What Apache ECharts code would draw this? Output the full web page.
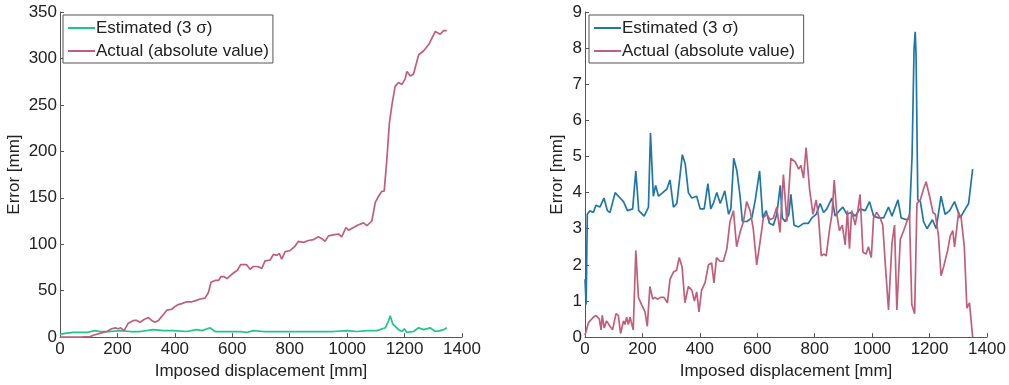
<!DOCTYPE html>
<html>
<head>
<meta charset="utf-8">
<script src="https://cdn.jsdelivr.net/npm/echarts@6/dist/echarts.min.js"></script>
<style>
  html, body { margin: 0; padding: 0; background: #fff; }
  #chart { width: 1009px; height: 385px; }
</style>
</head>
<body>
<div id="chart"></div>
<script>
// left panel
const leftEstX = [0, 17, 46, 93, 122, 139, 174, 209, 244, 279, 325, 360, 395, 441, 476, 494, 523, 540, 569, 604, 610, 627, 650, 673, 708, 743, 778, 813, 860, 906, 952, 999, 1034, 1069, 1104, 1133, 1145, 1150, 1159, 1179, 1191, 1199, 1208, 1231, 1249, 1266, 1289, 1307, 1324, 1336, 1347];
const leftEstY = [3, 4, 5, 5, 7, 6, 6, 7, 6, 6, 8, 7, 7, 6, 8, 7, 10, 6, 6, 6, 8, 6, 5, 7, 6, 6, 6, 6, 6, 6, 6, 7, 6, 7, 7, 10, 18, 23, 14, 8, 6, 9, 5, 6, 10, 8, 10, 6, 7, 8, 10];
const leftActX = [0, 23, 70, 105, 116, 139, 163, 180, 192, 203, 211, 223, 238, 256, 267, 279, 293, 308, 319, 331, 343, 354, 372, 389, 401, 412, 424, 441, 459, 470, 488, 505, 517, 526, 540, 552, 560, 571, 581, 592, 604, 618, 629, 650, 662, 673, 688, 703, 714, 732, 743, 755, 764, 772, 784, 801, 819, 830, 848, 865, 883, 900, 912, 923, 935, 952, 970, 981, 987, 996, 1005, 1022, 1040, 1057, 1069, 1086, 1098, 1110, 1121, 1129, 1138, 1147, 1156, 1167, 1179, 1191, 1202, 1208, 1220, 1231, 1249, 1266, 1284, 1307, 1324, 1336, 1347];
const leftActY = [0, 0, 0, 0.5, 2, 4, 6, 9, 10, 9, 10, 7, 15, 18, 18, 16, 19, 21, 18, 16, 18, 22, 29, 30, 33, 35, 36, 38, 38, 39, 41, 42, 48, 59, 61, 61, 65, 65, 63, 66, 69, 72, 78, 78, 73, 76, 76, 74, 82, 83, 89, 88, 90, 84, 92, 93, 98, 103, 102, 104, 105, 108, 106, 103, 109, 110, 111, 108, 108, 118, 115, 118, 121, 123, 120, 125, 145, 152, 157, 157, 190, 230, 250, 270, 274, 272, 278, 286, 281, 283, 304, 308, 315, 329, 326, 330, 330];

// right panel
const rightEstX = [0, 4, 8, 17, 29, 38, 52, 66, 78, 87, 105, 122, 134, 148, 166, 177, 187, 206, 221, 228, 238, 246, 256, 271, 285, 296, 308, 320, 339, 349, 360, 372, 389, 401, 415, 428, 438, 447, 459, 471, 487, 500, 508, 518, 529, 540, 548, 564, 581, 593, 608, 619, 631, 642, 656, 668, 680, 687, 697, 710, 717, 728, 744, 761, 778, 790, 805, 819, 831, 842, 860, 871, 886, 898, 912, 927, 941, 958, 976, 991, 1005, 1022, 1040, 1057, 1069, 1090, 1101, 1119, 1130, 1139, 1146, 1150, 1153, 1159, 1168, 1179, 1191, 1210, 1223, 1240, 1254, 1270, 1287, 1307, 1321, 1336, 1350];
const rightEstY = [1.6, 0.9, 3.4, 3.5, 3.45, 3.65, 3.6, 3.85, 3.5, 3.45, 4.0, 3.85, 3.75, 3.5, 3.55, 4.6, 3.5, 3.35, 3.6, 5.65, 3.9, 4.2, 3.9, 4.0, 4.1, 4.35, 3.6, 3.7, 5.05, 4.8, 4.0, 3.85, 3.9, 3.55, 3.55, 4.25, 3.55, 3.7, 4.0, 3.7, 4.05, 3.4, 3.55, 4.95, 4.6, 3.9, 3.2, 3.2, 3.3, 3.8, 4.6, 3.3, 3.5, 3.15, 3.1, 3.4, 4.2, 3.3, 3.2, 3.4, 3.95, 3.1, 3.05, 3.15, 3.15, 3.3, 3.4, 3.7, 3.45, 3.55, 3.85, 3.35, 3.5, 3.6, 3.4, 3.45, 3.35, 3.55, 3.5, 3.75, 3.35, 3.3, 3.3, 3.6, 3.35, 3.8, 3.3, 3.25, 3.3, 5.0, 8.0, 8.45, 7.8, 3.8, 3.75, 3.2, 3.0, 3.25, 3.0, 3.9, 3.4, 3.5, 3.75, 3.3, 3.5, 3.7, 4.65];
const rightActX = [0, 12, 29, 38, 50, 56, 60, 67, 75, 87, 96, 108, 116, 124, 134, 139, 145, 151, 157, 168, 177, 186, 197, 209, 217, 226, 236, 244, 252, 263, 275, 287, 296, 308, 319, 328, 338, 348, 360, 372, 381, 389, 397, 406, 418, 430, 441, 449, 458, 470, 482, 494, 505, 517, 528, 540, 552, 563, 575, 586, 598, 610, 621, 633, 645, 656, 668, 679, 691, 697, 703, 717, 732, 744, 752, 761, 770, 782, 794, 805, 813, 823, 833, 840, 852, 860, 868, 877, 886, 896, 906, 914, 921, 929, 935, 941, 950, 958, 968, 979, 987, 997, 1005, 1016, 1028, 1037, 1046, 1057, 1069, 1078, 1086, 1098, 1110, 1121, 1130, 1138, 1148, 1156, 1168, 1179, 1188, 1200, 1212, 1220, 1231, 1240, 1249, 1263, 1272, 1281, 1287, 1301, 1310, 1321, 1330, 1339, 1350];
const rightActY = [0.05, 0.4, 0.55, 0.6, 0.5, 0.2, 0.6, 0.25, 0.45, 0.3, 0.2, 0.65, 0.6, 0.1, 0.45, 0.35, 0.55, 0.35, 0.55, 0.2, 2.4, 1.1, 0.9, 0.7, 0.3, 1.4, 1.05, 1.1, 1.05, 1.1, 1.1, 0.95, 1.6, 1.8, 1.85, 2.2, 1.95, 0.95, 1.4, 1.3, 1.0, 1.25, 0.7, 1.3, 1.5, 2.0, 2.05, 1.5, 2.2, 2.1, 2.1, 2.45, 3.2, 3.5, 2.5, 2.9, 3.2, 3.75, 3.5, 3.0, 2.0, 2.65, 3.3, 3.4, 3.25, 3.3, 3.6, 2.9, 4.5, 4.55, 3.2, 4.95, 4.85, 4.65, 4.75, 4.4, 5.25, 4.1, 3.4, 3.8, 3.35, 2.25, 2.3, 2.25, 3.0, 3.4, 4.35, 3.4, 2.95, 3.1, 2.55, 3.5, 2.45, 3.5, 3.5, 3.1, 3.5, 3.95, 2.35, 2.3, 2.5, 2.2, 3.3, 3.45, 3.3, 3.1, 2.0, 0.75, 2.6, 3.1, 0.75, 2.7, 2.95, 3.2, 3.4, 0.9, 0.65, 3.7, 3.8, 4.1, 4.3, 3.9, 3.45, 3.4, 2.8, 1.7, 1.95, 2.4, 2.8, 2.95, 2.5, 3.45, 3.3, 2.5, 0.8, 0.95, 0.0];

const pair = (xs, ys) => xs.map((x, i) => [x, ys[i]]);

const green = "#21c588";
const pink = "#c15e7b";
const blue = "#1f77a9";
const font = "Liberation Sans";
const fs = 17;

function xAxisFor(idx) {
  return {
    gridIndex: idx,
    type: "value",
    min: 0,
    max: 1400,
    interval: 200,
    name: "Imposed displacement [mm]",
    nameLocation: "middle",
    nameGap: 21,
    nameTextStyle: { fontFamily: font, fontSize: fs, color: "#222" },
    axisLine: { show: true, lineStyle: { color: "#555", width: 1 } },
    axisTick: { show: true, inside: true, length: 4, lineStyle: { color: "#555" } },
    axisLabel: { fontFamily: font, fontSize: fs, color: "#222", margin: 4, formatter: v => String(v) },
    splitLine: { show: false }
  };
}

function yAxisFor(idx, max, interval, gap) {
  return {
    gridIndex: idx,
    type: "value",
    min: 0,
    max: max,
    interval: interval,
    name: "Error [mm]",
    nameLocation: "middle",
    nameGap: gap,
    nameTextStyle: { fontFamily: font, fontSize: fs, color: "#222" },
    axisLine: { show: true, lineStyle: { color: "#555", width: 1 } },
    axisTick: { show: true, inside: true, length: 4, lineStyle: { color: "#555" } },
    axisLabel: { fontFamily: font, fontSize: fs, color: "#222", margin: 3 },
    splitLine: { show: false }
  };
}

function lineSeries(name, data, color, xi, yi) {
  return {
    name: name,
    type: "line",
    xAxisIndex: xi,
    yAxisIndex: yi,
    data: data,
    showSymbol: false,
    symbol: "none",
    lineStyle: { color: color, width: 1.7 },
    itemStyle: { color: color },
    animation: false
  };
}

const legendBase = {
  orient: "vertical",
  backgroundColor: "#fff",
  borderColor: "#555",
  borderWidth: 1,
  borderRadius: 0,
  padding: [3, 4, 2, 5],
  itemGap: 3,
  itemWidth: 27,
  itemHeight: 2,
  icon: "rect",
  textStyle: { fontFamily: font, fontSize: fs, color: "#222", padding: [0, 0, 0, -4], lineHeight: 20 }
};

const chart = echarts.init(document.getElementById("chart"), null, { renderer: "canvas" });
chart.setOption({
  backgroundColor: "#fff",
  animation: false,
  grid: [
    { left: 60, top: 12, width: 402, height: 327 },
    { left: 585, top: 12, width: 402, height: 327 }
  ],
  legend: [
    Object.assign({}, legendBase, { left: 63, top: 15, data: ["Estimated (3 σ)", "Actual (absolute value)"] }),
    Object.assign({}, legendBase, { left: 589, top: 15, data: ["Estimated (3 σ) ", "Actual (absolute value) "] })
  ],
  xAxis: [xAxisFor(0), xAxisFor(1)],
  yAxis: [yAxisFor(0, 350, 50, 37), yAxisFor(1, 9, 1, 19)],
  series: [
    lineSeries("Estimated (3 σ)", pair(leftEstX, leftEstY), green, 0, 0),
    lineSeries("Actual (absolute value)", pair(leftActX, leftActY), pink, 0, 0),
    lineSeries("Estimated (3 σ) ", pair(rightEstX, rightEstY), blue, 1, 1),
    lineSeries("Actual (absolute value) ", pair(rightActX, rightActY), pink, 1, 1)
  ]
});
</script>
</body>
</html>
